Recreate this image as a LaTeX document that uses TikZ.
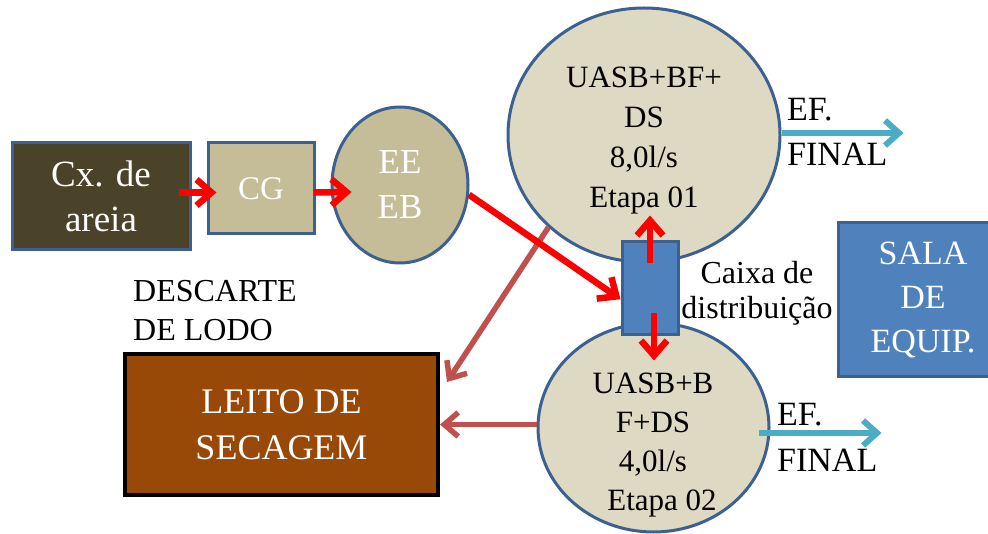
\documentclass[tikz,border=0pt]{standalone}
\usepackage{fontspec}
\setmainfont{Liberation Serif}
\usetikzlibrary{shapes.geometric,arrows.meta}
\definecolor{areiafill}{HTML}{4A4229}
\definecolor{tanfill}{HTML}{C4BD97}
\definecolor{uasbfill}{HTML}{DDD9C3}
\definecolor{blueline}{HTML}{3C6090}
\definecolor{bluefill}{HTML}{4F81BD}
\definecolor{leitofill}{HTML}{984807}
\definecolor{lodoline}{HTML}{C0504D}
\definecolor{efline}{HTML}{4BACC6}

\begin{document}
\begin{tikzpicture}[x=1pt,y=-1pt,
  unit/.style={draw=blueline,line width=3pt,align=center,inner sep=0pt},
  txt/.style={align=left,inner sep=0pt,anchor=north west},
  flow/.style={red,line width=6.5pt,-{Straight Barb[length=15pt,width=26pt]}},
  lodo/.style={lodoline,line width=5.5pt,-{Straight Barb[length=14pt,width=24pt]}},
  efl/.style={efline,line width=6pt,-{Straight Barb[length=14pt,width=25pt]}}]
\useasboundingbox (0,0) rectangle (988,534);
\node[unit,fill=areiafill,text=white,minimum width=178pt,minimum height=107pt,font=\fontsize{37}{45}\selectfont] (cx) at (101,196.5) {Cx. de\\areia};
\node[unit,fill=tanfill,text=white,minimum width=106pt,minimum height=91pt,font=\fontsize{33}{40}\selectfont] (cg) at (261,188.5) {CG};
\node[unit,ellipse,fill=tanfill,text=white,minimum width=136pt,minimum height=156pt,font=\fontsize{35}{45}\selectfont] (ee) at (400,185) {EE\\EB};
\node[unit,ellipse,fill=uasbfill,minimum width=272pt,minimum height=254pt] (u1) at (644,135) {};
\node[align=center,inner sep=0pt,anchor=north,font=\fontsize{31}{40}\selectfont] (u1txt) at (644,67) {UASB+BF+\\DS\\8,0l/s\\Etapa 01};
\node[unit,ellipse,fill=uasbfill,minimum width=231pt,minimum height=209pt] (u2) at (653.5,427.5) {};
\node[align=center,inner sep=0pt,anchor=north,font=\fontsize{31}{39}\selectfont] (u2txt) at (653,373) {UASB+B\\F+DS\\4,0l/s\\\hspace*{18pt}Etapa 02};
\node[unit,fill=bluefill,minimum width=56pt,minimum height=93pt] (caixa) at (650,288.5) {};
\node[align=center,inner sep=0pt,anchor=north,font=\fontsize{32}{35}\selectfont] (caixatxt) at (757,261) {Caixa de\\distribuição};
\node[unit,fill=bluefill,text=white,minimum width=170pt,minimum height=154pt,font=\fontsize{34}{44}\selectfont] (sala) at (923,300) {SALA\\DE\\EQUIP.};
\node[draw=black,line width=4pt,fill=leitofill,text=white,align=center,inner sep=0pt,minimum width=313pt,minimum height=141pt,font=\fontsize{36}{46}\selectfont] (leito) at (281.5,424.5) {LEITO DE\\SECAGEM};
\node[txt,font=\fontsize{32}{39}\selectfont] (descarte) at (133,280) {DESCARTE\\DE LODO};
\node[txt,font=\fontsize{34}{45}\selectfont] (ef1) at (787,98) {EF.\\FINAL};
\node[txt,font=\fontsize{34}{46}\selectfont] (ef2) at (777,403) {EF.\\FINAL};
\coordinate (lodo1) at (447,382);
\draw[lodo] (u1.224) -- (lodo1);
\draw[lodo] (u2.west |- leito.east) -- (leito.east);
\draw[flow] ([xshift=-13pt,yshift=4pt]cx.east) -- ([xshift=10pt,yshift=-4pt]cg.west);
\draw[flow] ([xshift=-2pt,yshift=-4pt]cg.east) -- ([xshift=21pt,yshift=-7pt]ee.west);
\draw[flow] (ee.-8) -- (caixa.200);
\draw[flow] ([yshift=25pt]caixa.center) -- ([yshift=73pt]caixa.center);
\draw[flow] ([xshift=4pt,yshift=-25pt]caixa.center) -- ([xshift=4pt,yshift=-72pt]caixa.center);
\draw[efl] ([yshift=2pt]u1.east) -- ++(122,0);
\draw[efl] ([xshift=-12pt,yshift=-5.5pt]u2.east) -- ++(123,0);
\end{tikzpicture}
\end{document}
